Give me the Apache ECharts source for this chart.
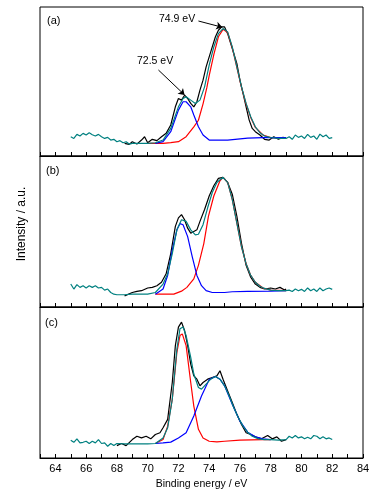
<!DOCTYPE html>
<html>
<head>
<meta charset="utf-8">
<script src="https://cdn.jsdelivr.net/npm/echarts@6/dist/echarts.min.js"></script>
<style>
  html, body { margin: 0; padding: 0; background: #fff; }
  #chart { width: 375px; height: 496px; }
</style>
</head>
<body>
<div id="chart"></div>
<script>
// binding energy axis
var xMin = 63, xMax = 84;
var panelNames = ['(a)', '(b)', '(c)'];

// panel (a): [eV, intensity (a.u., 0-100 of panel)]
var aBlack = [[68.5,8.5],[68.8,7.8],[69.0,9.6],[69.3,8.0],[69.6,10.7],[69.8,12.9],[70.0,8.9],[70.3,11.2],[70.6,10.3],[70.9,12.9],[71.2,15.2],[71.5,20.8],[71.8,33.0],[72.0,38.6],[72.2,37.5],[72.4,40.8],[72.6,38.6],[72.8,35.3],[73.0,33.0],[73.2,36.4],[73.4,44.2],[73.6,50.9],[73.8,59.8],[74.0,66.5],[74.2,73.2],[74.4,79.9],[74.6,84.4],[74.8,86.6],[75.0,86.6],[75.2,82.1],[75.4,75.4],[75.6,68.8],[75.8,62.0],[76.0,50.9],[76.2,42.0],[76.4,33.0],[76.6,24.1],[76.8,18.5],[77.0,16.3],[77.3,14.1],[77.6,11.2],[77.9,10.7],[78.2,12.9],[78.5,11.2],[78.8,12.5],[79.0,11.8]];
var aTeal = [[65.0,12.9],[65.2,11.8],[65.4,14.5],[65.6,13.4],[65.8,15.2],[66.0,14.1],[66.2,15.6],[66.4,14.3],[66.6,13.4],[66.8,14.5],[67.0,12.9],[67.2,11.8],[67.4,12.5],[67.6,10.7],[67.8,11.2],[68.0,9.6],[68.2,10.3],[68.4,8.9],[68.6,9.6],[68.8,8.0],[69.0,8.5],[69.5,8.5],[70.0,8.5],[70.5,8.9],[71.0,10.7],[71.5,18.5],[72.0,33.0],[72.3,38.6],[72.5,39.7],[72.8,37.5],[73.1,35.3],[73.4,37.5],[73.7,46.4],[74.0,61.0],[74.3,73.2],[74.6,82.1],[74.9,85.5],[75.2,83.3],[75.5,73.2],[75.8,59.8],[76.1,46.4],[76.4,35.3],[76.7,26.3],[77.0,19.6],[77.3,15.6],[77.6,13.4],[78.0,12.3],[78.5,11.8],[79.0,11.8],[79.2,12.9],[79.4,11.2],[79.6,14.1],[79.8,12.5],[80.0,13.4],[80.2,11.8],[80.4,14.5],[80.6,12.5],[80.8,13.4],[81.0,11.2],[81.2,14.7],[81.4,12.9],[81.6,14.1],[81.8,11.8],[82.0,12.3]];
var aRed = [[70.0,8.5],[71.0,8.5],[71.5,9.0],[72.0,9.6],[72.5,13.0],[73.0,19.6],[73.3,24.0],[73.6,35.0],[73.85,46.0],[74.0,54.0],[74.3,68.0],[74.6,80.0],[74.9,85.0],[75.2,82.8],[75.5,72.8],[75.8,59.4],[76.1,46.0],[76.4,34.8],[76.7,25.9],[77.0,19.2],[77.5,14.1],[78.0,12.3],[79.0,11.8]];
var aBlue = [[70.5,8.5],[71.0,9.6],[71.5,16.3],[72.0,30.8],[72.3,36.4],[72.5,36.4],[72.8,33.0],[73.0,27.5],[73.3,19.6],[73.6,14.1],[74.0,10.7],[74.5,10.7],[75.2,10.7],[75.3,11.8],[76.5,12.0],[77.5,12.3],[79.0,12.3]];

// panel (b)
var bBlack = [[68.5,7.4],[69.0,9.6],[69.3,10.3],[69.6,10.8],[70.0,12.6],[70.3,13.0],[70.6,14.1],[70.9,16.4],[71.2,22.0],[71.5,35.4],[71.8,53.4],[72.0,59.0],[72.2,61.2],[72.4,57.8],[72.6,52.2],[72.8,48.9],[73.0,50.0],[73.2,51.1],[73.4,56.7],[73.7,64.6],[74.0,73.5],[74.3,80.3],[74.6,85.2],[74.9,85.9],[75.2,82.5],[75.5,74.7],[75.8,60.1],[76.1,42.2],[76.4,27.6],[76.7,19.7],[77.0,15.2],[77.3,13.0],[77.6,11.9],[78.0,12.6],[78.3,11.9],[78.6,13.0],[78.9,11.2],[79.0,11.9]];
var bTeal = [[65.0,15.2],[65.2,11.9],[65.4,14.8],[65.6,13.0],[65.8,14.1],[66.0,12.6],[66.2,14.1],[66.4,13.0],[66.6,14.1],[66.8,12.6],[67.0,13.0],[67.2,11.2],[67.4,11.9],[67.6,9.6],[67.8,8.5],[68.0,8.1],[68.5,8.1],[69.0,8.5],[70.0,8.5],[70.5,9.6],[71.0,15.2],[71.3,22.0],[71.6,35.4],[71.9,51.1],[72.2,57.8],[72.5,56.7],[72.8,51.1],[73.1,47.8],[73.3,48.2],[73.6,54.5],[73.9,65.7],[74.2,75.8],[74.5,82.5],[74.9,85.9],[75.2,82.5],[75.5,71.3],[75.8,55.6],[76.1,39.9],[76.4,28.7],[76.7,20.9],[77.0,16.4],[77.3,13.7],[77.6,12.3],[78.0,11.2],[78.5,10.8],[79.0,10.8],[79.2,11.2],[79.4,10.3],[79.6,11.9],[79.8,10.8],[80.0,11.7],[80.2,10.3],[80.4,12.6],[80.6,10.8],[80.8,11.9],[81.0,10.3],[81.2,12.6],[81.4,10.8],[81.6,11.9],[81.8,12.6],[82.0,11.7]];
var bRed = [[70.5,8.5],[71.0,8.5],[71.7,8.5],[72.2,10.5],[72.55,13.0],[73.0,18.6],[73.3,27.6],[73.65,42.0],[73.95,60.0],[74.3,73.5],[74.7,83.6],[74.9,85.9],[75.2,82.5],[75.5,71.3],[75.8,55.6],[76.1,39.9],[76.4,28.7],[76.7,20.9],[77.0,16.4],[77.5,12.6],[78.0,11.2],[79.0,10.8]];
var bBlue = [[70.5,8.5],[71.0,11.9],[71.3,20.9],[71.6,37.7],[71.9,51.1],[72.1,55.2],[72.3,54.5],[72.6,46.6],[72.9,33.2],[73.2,20.9],[73.5,14.1],[73.8,10.8],[74.2,9.6],[75.0,9.6],[75.5,10.1],[76.5,10.3],[78.0,10.5],[79.0,10.8]];

// panel (c)
var cBlack = [[68.0,8.2],[68.3,9.6],[68.6,8.2],[69.0,12.2],[69.3,14.4],[69.6,13.3],[69.9,14.4],[70.2,12.7],[70.5,15.6],[70.8,16.7],[71.0,20.0],[71.3,25.6],[71.6,50.0],[71.8,74.4],[72.0,86.7],[72.2,90.0],[72.4,84.4],[72.6,74.4],[72.8,62.2],[73.0,54.4],[73.2,52.2],[73.4,47.8],[73.6,50.0],[73.9,52.2],[74.2,53.3],[74.5,54.4],[74.7,57.8],[74.9,52.2],[75.2,44.4],[75.5,36.7],[75.8,28.9],[76.1,22.2],[76.4,16.7],[76.7,15.6],[77.0,14.0],[77.4,12.7],[77.8,14.9],[78.1,12.7],[78.4,14.0],[78.7,11.1],[79.0,12.2]];
var cTeal = [[65.0,11.8],[65.2,10.4],[65.4,12.7],[65.6,10.0],[65.8,10.4],[66.0,11.1],[66.2,9.6],[66.4,11.1],[66.6,10.0],[66.8,12.2],[67.0,9.6],[67.2,10.0],[67.4,7.8],[67.6,9.6],[67.8,8.2],[68.0,9.6],[68.5,9.3],[69.0,9.3],[70.0,9.3],[70.5,9.6],[71.0,13.3],[71.3,20.0],[71.6,38.9],[71.9,72.2],[72.1,85.6],[72.3,86.7],[72.5,81.1],[72.8,66.7],[73.0,55.6],[73.3,46.7],[73.5,45.6],[73.8,48.9],[74.1,52.2],[74.4,54.0],[74.7,52.2],[75.0,47.8],[75.3,41.1],[75.6,33.3],[75.9,26.7],[76.2,21.1],[76.5,17.1],[76.8,14.4],[77.2,12.7],[77.6,12.2],[78.0,12.2],[78.5,11.8],[79.0,12.2],[79.2,14.4],[79.4,13.3],[79.6,14.9],[79.8,13.3],[80.0,14.0],[80.2,12.7],[80.4,13.8],[80.6,12.7],[80.8,14.9],[81.0,14.4],[81.2,12.7],[81.4,14.0],[81.6,12.7],[81.8,13.3],[82.0,12.2]];
var cRed = [[70.5,9.6],[71.0,12.2],[71.3,21.1],[71.6,38.9],[71.9,70.0],[72.1,81.1],[72.25,82.2],[72.5,74.4],[72.8,50.0],[73.0,34.4],[73.3,19.0],[73.6,13.3],[74.0,11.1],[74.5,10.7],[75.0,11.1],[76.0,11.8],[77.5,12.2],[78.0,12.2]];
var cBlue = [[70.5,9.6],[71.0,10.0],[71.5,10.5],[72.0,13.3],[72.5,16.7],[73.0,27.8],[73.5,41.0],[74.0,52.0],[74.4,54.0],[74.7,52.2],[75.0,47.8],[75.5,35.6],[76.0,24.4],[76.5,17.1],[77.0,14.0],[77.5,12.7],[78.0,12.2]];

// arrows for the peak labels in panel (a): [from, to]
var peakArrows = [[[73.3, 90.6], [74.85, 86.4]], [[70.7, 57.7], [72.4, 41.0]]];

var panels = [
    [aBlack, aRed, aBlue, aTeal],
    [bBlack, bRed, bBlue, bTeal],
    [cBlack, cRed, cBlue, cTeal]
];
var colors = ['#000000', '#ff0000', '#0000ff', '#008080'];
var tops = [7, 156, 307];
var heights = [149, 151, 151];

var chart = echarts.init(document.getElementById('chart'));

var grid = [], xAxis = [], yAxis = [], series = [];
for (var i = 0; i < 3; i++) {
    grid.push({
        left: 40, right: 12, top: tops[i], height: heights[i],
        show: true, borderColor: '#000', borderWidth: 1
    });
    xAxis.push({
        type: 'value', gridIndex: i, min: xMin, max: xMax, interval: 1,
        axisLine: { show: true, lineStyle: { color: '#000', width: 1 } },
        axisTick: { show: true, inside: true, length: 4, lineStyle: { color: '#000' } },
        splitLine: { show: false },
        axisLabel: {
            show: i === 2, color: '#000', fontSize: 11, margin: 5,
            fontFamily: 'Liberation Sans',
            formatter: function (v) { return v % 2 === 0 ? String(v) : ''; }
        },
        name: i === 2 ? 'Binding energy / eV' : '',
        nameLocation: 'middle', nameGap: 21,
        nameTextStyle: { color: '#000', fontSize: 10.5, fontFamily: 'Liberation Sans' }
    });
    yAxis.push({ type: 'value', gridIndex: i, min: 0, max: 100, show: false });
    for (var k = 0; k < 4; k++) {
        var s = {
            type: 'line', xAxisIndex: i, yAxisIndex: i,
            data: panels[i][k], showSymbol: false, symbol: 'none',
            lineStyle: { color: colors[k], width: 1.2 },
            z: 2 + k
        };
        if (i === 0 && k === 3) {
            s.markLine = {
                silent: true, symbol: ['none', 'arrow'], symbolSize: 6,
                lineStyle: { color: '#000', width: 1, type: 'solid' },
                label: { show: false },
                data: peakArrows.map(function (a) {
                    return [{ coord: a[0] }, { coord: a[1] }];
                })
            };
        }
        series.push(s);
    }
}

var graphic = [
    { type: 'text', left: 47, top: 15, style: { text: panelNames[0], fontSize: 11, fontFamily: 'Liberation Sans', fill: '#000' } },
    { type: 'text', left: 46, top: 165, style: { text: panelNames[1], fontSize: 11, fontFamily: 'Liberation Sans', fill: '#000' } },
    { type: 'text', left: 45, top: 317, style: { text: panelNames[2], fontSize: 11, fontFamily: 'Liberation Sans', fill: '#000' } },
    { type: 'text', left: 159, top: 14, style: { text: '74.9 eV', fontSize: 10.5, fontFamily: 'Liberation Sans', fill: '#000' } },
    { type: 'text', left: 137, top: 56, style: { text: '72.5 eV', fontSize: 10.5, fontFamily: 'Liberation Sans', fill: '#000' } },
    {
        type: 'text', x: 22, y: 224, rotation: Math.PI / 2,
        style: { text: 'Intensity / a.u.', fontSize: 12, fontFamily: 'Liberation Sans', fill: '#000', align: 'center', verticalAlign: 'middle' }
    }
];

chart.setOption({
    animation: false,
    backgroundColor: '#fff',
    grid: grid,
    xAxis: xAxis,
    yAxis: yAxis,
    series: series,
    graphic: graphic
});
</script>
</body>
</html>
